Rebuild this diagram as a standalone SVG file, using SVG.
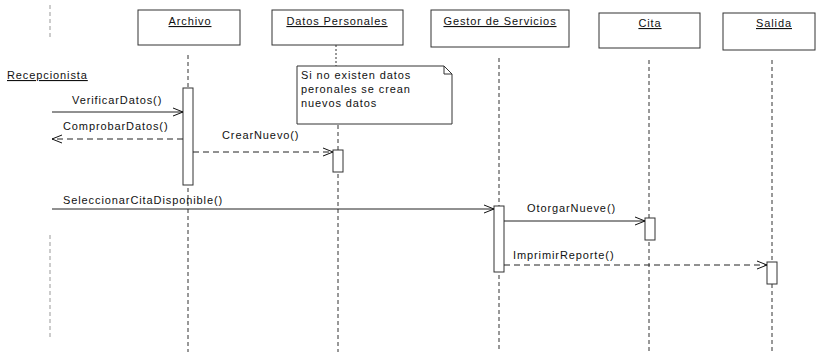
<svg xmlns="http://www.w3.org/2000/svg" width="816" height="352" viewBox="0 0 816 352">
<defs>
<marker id="open" markerWidth="12" markerHeight="10" refX="11" refY="5" orient="auto" markerUnits="userSpaceOnUse">
<path d="M1,1 L11,5 L1,9" fill="none" stroke="#111" stroke-width="1"/>
</marker>
</defs>
<style>
text{font-family:"Liberation Sans",Arial,sans-serif;font-size:11px;fill:#111;letter-spacing:0.9px}
.obj{fill:#fff;stroke:#333;stroke-width:1}
.name{text-anchor:middle;text-decoration:underline}
.life{stroke:#333;stroke-width:1;stroke-dasharray:4 3;fill:none}
.act{fill:#fff;stroke:#333;stroke-width:1}
.msg{stroke:#222;stroke-width:1;fill:none;marker-end:url(#open)}
.ret{stroke:#222;stroke-width:1;fill:none;stroke-dasharray:6 4;marker-end:url(#open)}
.note{fill:#fff;stroke:#333;stroke-width:1}
</style>
<rect width="816" height="352" fill="#fff"/>

<g id="recepcionista">
<line class="life" x1="50" y1="5" x2="50" y2="40" stroke-opacity="0.5"/>
<text x="7" y="79" style="text-decoration:underline">Recepcionista</text>
<line class="life" x1="50" y1="235" x2="50" y2="340" stroke-opacity="0.5"/>
</g>

<g id="archivo">
<rect class="obj" x="138" y="10" width="102" height="35"/>
<text class="name" x="190" y="25">Archivo</text>
<line class="life" x1="188" y1="55" x2="188" y2="352"/>
<rect class="act" x="183" y="88" width="10" height="97"/>
</g>

<g id="datos-personales">
<rect class="obj" x="272" y="10" width="131" height="35"/>
<text class="name" x="337" y="25">Datos Personales</text>
<line class="life" x1="338" y1="125" x2="338" y2="352"/>
<rect class="act" x="333" y="150" width="10" height="22"/>
</g>

<g id="nota">
<path class="note" d="M297,66 L444,66 L452,74 L452,124 L297,124 Z"/>
<path d="M444,66 L444,74 L452,74" fill="none" stroke="#333" stroke-width="1"/>
<line x1="336" y1="45" x2="336" y2="66" stroke="#333" stroke-dasharray="2 2"/>
<text x="301" y="79">Si no existen datos</text>
<text x="301" y="93">peronales se crean</text>
<text x="301" y="107">nuevos datos</text>
</g>

<g id="gestor-de-servicios">
<rect class="obj" x="431" y="10" width="138" height="37"/>
<text class="name" x="500" y="25">Gestor de Servicios</text>
<line class="life" x1="499" y1="58" x2="499" y2="352"/>
<rect class="act" x="494" y="206" width="10" height="66"/>
</g>

<g id="cita">
<rect class="obj" x="599" y="13" width="101" height="35"/>
<text class="name" x="650" y="27">Cita</text>
<line class="life" x1="649" y1="60" x2="649" y2="352"/>
<rect class="act" x="645" y="218" width="10" height="22"/>
</g>

<g id="salida">
<rect class="obj" x="723" y="13" width="92" height="37"/>
<text class="name" x="774" y="27">Salida</text>
<line class="life" x1="772" y1="60" x2="772" y2="352"/>
<rect class="act" x="767" y="262" width="10" height="22"/>
</g>

<g id="connectors">
<line class="msg" x1="52" y1="112" x2="183" y2="112"/>
<text x="72" y="104">VerificarDatos()</text>
<line class="ret" x1="183" y1="139" x2="52" y2="139"/>
<text x="63" y="130">ComprobarDatos()</text>
<line class="ret" x1="193" y1="152" x2="333" y2="152"/>
<text x="222" y="139">CrearNuevo()</text>
<line class="msg" x1="52" y1="209" x2="494" y2="209"/>
<text x="63" y="204">SeleccionarCitaDisponible()</text>
<line class="msg" x1="504" y1="221" x2="645" y2="221"/>
<text x="527" y="212">OtorgarNueve()</text>
<line class="ret" x1="504" y1="265" x2="767" y2="265"/>
<text x="513" y="259">ImprimirReporte()</text>
</g>
</svg>
